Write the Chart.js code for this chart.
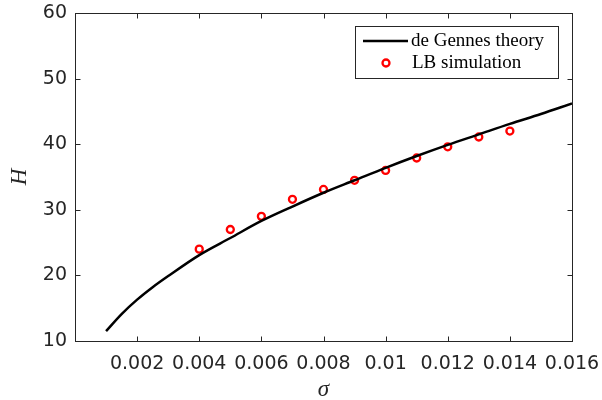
<!DOCTYPE html>
<html>
<head>
<meta charset="utf-8">
<script src="https://cdn.jsdelivr.net/npm/chart.js@4.4.1/dist/chart.umd.min.js"></script>
<style>
  html, body { margin: 0; padding: 0; background: #fff; }
  #wrap { width: 602px; height: 400px; }
</style>
</head>
<body>
<div id="wrap"><canvas id="hChart" width="602" height="400"></canvas></div>
<script>
// theory curve
const theorySigma = [0.001, 0.0015, 0.002, 0.0025, 0.003, 0.004, 0.005, 0.006, 0.007, 0.008,
                     0.009, 0.010, 0.011, 0.012, 0.013, 0.014, 0.015, 0.016];
const theoryH = [11.5, 14.1, 16.3, 18.2, 19.9, 23.1, 25.7, 28.3, 30.5, 32.6,
                 34.5, 36.4, 38.2, 39.9, 41.5, 43.1, 44.6, 46.2];

// LB simulation points
const simSigma = [0.004, 0.005, 0.006, 0.007, 0.008, 0.009, 0.010, 0.011, 0.012, 0.013, 0.014];
const simH = [24.0, 27.0, 29.0, 31.6, 33.1, 34.5, 36.0, 37.9, 39.6, 41.1, 42.0];

const xTicks = [0, 0.002, 0.004, 0.006, 0.008, 0.01, 0.012, 0.014, 0.016];
const yTicks = [10, 20, 30, 40, 50, 60];
const legendLabels = ['de Gennes theory', 'LB simulation'];

const axisColor = '#262626';

// box, inward ticks, axis titles and legend
const matlabAxes = {
  id: 'matlabAxes',
  afterDatasetsDraw(chart) {
    const ctx = chart.ctx;
    const a = chart.chartArea;
    const xs = chart.scales.x, ys = chart.scales.y;
    const L = Math.round(a.left) + 0.5, R = Math.round(a.right) + 0.5;
    const T = Math.round(a.top) + 0.5, B = Math.round(a.bottom) + 0.5;
    ctx.save();
    ctx.strokeStyle = axisColor;
    ctx.lineWidth = 1;
    ctx.strokeRect(L, T, R - L, B - T);
    ctx.beginPath();
    xTicks.forEach(v => {
      const px = Math.round(xs.getPixelForValue(v)) + 0.5;
      ctx.moveTo(px, B); ctx.lineTo(px, B - 5);
      ctx.moveTo(px, T); ctx.lineTo(px, T + 5);
    });
    yTicks.forEach(v => {
      const py = Math.round(ys.getPixelForValue(v)) + 0.5;
      ctx.moveTo(L, py); ctx.lineTo(L + 5, py);
      ctx.moveTo(R, py); ctx.lineTo(R - 5, py);
    });
    ctx.stroke();

    // axis titles
    ctx.fillStyle = axisColor;
    ctx.font = 'italic 23px "Liberation Serif", serif';
    ctx.textAlign = 'center';
    ctx.textBaseline = 'middle';
    ctx.fillText('\u03c3', (a.left + a.right) / 2, 390);
    ctx.save();
    ctx.translate(20, (a.top + a.bottom) / 2);
    ctx.rotate(-Math.PI / 2);
    ctx.fillText('H', 0, 0);
    ctx.restore();

    // legend
    ctx.fillStyle = '#fff';
    ctx.fillRect(355.5, 26.5, 203, 52);
    ctx.strokeStyle = axisColor;
    ctx.lineWidth = 1;
    ctx.strokeRect(355.5, 26.5, 203, 52);
    ctx.strokeStyle = '#000';
    ctx.lineWidth = 2.5;
    ctx.beginPath();
    ctx.moveTo(363, 41); ctx.lineTo(408, 41);
    ctx.stroke();
    ctx.strokeStyle = '#ff0000';
    ctx.lineWidth = 2.3;
    ctx.beginPath();
    ctx.arc(386, 63, 3.5, 0, Math.PI * 2);
    ctx.stroke();
    ctx.fillStyle = '#000';
    ctx.font = '19px "Liberation Serif", serif';
    ctx.textAlign = 'left';
    ctx.fillText(legendLabels[0], 411, 41);
    ctx.fillText(legendLabels[1], 412, 63);
    ctx.restore();
  }
};

const hChart = document.getElementById('hChart');
new Chart(hChart, {
  type: 'scatter',
  data: {
    datasets: [{
      label: legendLabels[0],
      data: theorySigma.map((s, i) => ({ x: s, y: theoryH[i] })),
      showLine: true,
      borderColor: '#000',
      borderWidth: 2.5,
      pointRadius: 0,
      cubicInterpolationMode: 'monotone',
      fill: false
    }, {
      label: legendLabels[1],
      data: simSigma.map((s, i) => ({ x: s, y: simH[i] })),
      showLine: false,
      pointStyle: 'circle',
      pointRadius: 3.5,
      borderWidth: 2.3,
      borderColor: '#ff0000',
      backgroundColor: 'rgba(255,255,255,0)'
    }]
  },
  options: {
    responsive: false,
    animation: false,
    events: [],
    layout: { padding: { top: 13, right: 30, left: 0, bottom: 0 } },
    plugins: { legend: { display: false }, tooltip: { enabled: false } },
    scales: {
      x: {
        type: 'linear',
        min: 0,
        max: 0.016,
        afterFit(scale) {
          scale.height = 59;
          scale.paddingLeft = 0;
          scale.paddingRight = 0;
        },
        afterBuildTicks(scale) { scale.ticks = xTicks.map(v => ({ value: v })); },
        grid: { display: false, drawTicks: false },
        border: { display: false },
        ticks: {
          autoSkip: false,
          maxRotation: 0,
          padding: 12,
          color: axisColor,
          font: { family: '"DejaVu Sans", sans-serif', size: 19 },
          callback: v => (v === 0 ? '' : String(+v.toFixed(3)))
        }
      },
      y: {
        min: 10,
        max: 60,
        afterFit(scale) {
          scale.width = 75;
          scale.paddingTop = 0;
          scale.paddingBottom = 0;
        },
        afterBuildTicks(scale) { scale.ticks = yTicks.map(v => ({ value: v })); },
        grid: { display: false, drawTicks: false },
        border: { display: false },
        ticks: {
          padding: 8,
          color: axisColor,
          font: { family: '"DejaVu Sans", sans-serif', size: 19 }
        }
      }
    }
  },
  plugins: [matlabAxes]
});
</script>
</body>
</html>
